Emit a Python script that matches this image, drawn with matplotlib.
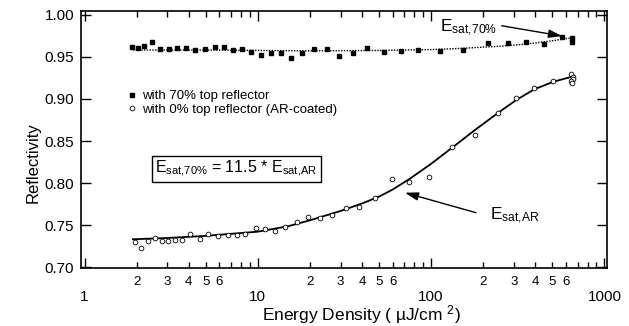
import math
import matplotlib
matplotlib.use("Agg")
import matplotlib.pyplot as plt
from matplotlib.ticker import FixedLocator, FuncFormatter

plt.rcParams['font.family'] = ['Liberation Sans', 'DejaVu Sans']
plt.rcParams['mathtext.fontset'] = 'custom'
plt.rcParams['mathtext.rm'] = 'Liberation Sans'
plt.rcParams['mathtext.it'] = 'Liberation Sans:italic'

# measured points, 70% top reflector
e_70 = [1.89, 2.03, 2.21, 2.45, 2.73, 3.06, 3.40, 3.84, 4.36, 4.94, 5.64, 6.41,
        7.22, 8.14, 9.14, 10.4, 11.9, 13.6, 15.6, 18.0, 21.0, 25.1, 29.4, 35.6,
        42.8, 53.7, 67.0, 84.4, 112.6, 153.4, 213.8, 276, 352, 451, 573, 646, 650]
r_70 = [0.9619, 0.9600, 0.9631, 0.9671, 0.9595, 0.9592, 0.9604, 0.9604, 0.9580,
        0.9595, 0.9612, 0.9619, 0.9584, 0.9588, 0.9556, 0.9521, 0.9544, 0.9544,
        0.9482, 0.9544, 0.9592, 0.9592, 0.9515, 0.9550, 0.9607, 0.9554, 0.9568,
        0.9576, 0.9568, 0.9586, 0.9663, 0.9659, 0.9678, 0.9648, 0.9734, 0.9719,
        0.9678]

# measured points, AR-coated
e_ar = [1.96, 2.11, 2.33, 2.55, 2.81, 3.04, 3.33, 3.64, 4.06, 4.64, 5.18, 5.92,
        6.71, 7.55, 8.44, 9.72, 11.0, 12.6, 14.4, 16.8, 19.6, 22.9, 26.7, 32.3,
        38.5, 47.5, 59.3, 74.6, 97.6, 131.5, 179.2, 244.2, 309, 394, 508,
        640, 655, 660, 645, 650]
r_ar = [0.7306, 0.7228, 0.7318, 0.7346, 0.7318, 0.7318, 0.7326, 0.7326, 0.7397,
        0.7335, 0.7397, 0.7374, 0.7386, 0.7389, 0.7397, 0.7465, 0.7457, 0.7437,
        0.7477, 0.7536, 0.7595, 0.7587, 0.7623, 0.7702, 0.7721, 0.7821, 0.8046,
        0.8018, 0.8070, 0.8433, 0.8572, 0.8833, 0.9014, 0.9126, 0.9209,
        0.9295, 0.9260, 0.9236, 0.9212, 0.9189]

# fit curves
fit70_e = [1.9, 5, 10, 20, 50, 100, 150, 250, 350, 500, 650]
fit70_r = [0.958, 0.958, 0.9575, 0.957, 0.9575, 0.9585, 0.960, 0.9625, 0.965, 0.969, 0.9725]
fitar_e = [1.9, 3, 5, 10, 15, 20, 30, 40, 50, 60, 75, 100, 131, 179, 244, 310, 394, 508, 648]
fitar_r = [0.7335, 0.735, 0.7375, 0.7425, 0.749, 0.756, 0.767, 0.776, 0.784, 0.7925,
           0.805, 0.823, 0.8415, 0.8631, 0.8836, 0.8987, 0.9114, 0.9204, 0.9263]


def minor_label(v, pos):
    m = round(v / 10 ** math.floor(math.log10(v) + 1e-9))
    return '%d' % m if m <= 6 else ''


fig = plt.figure(figsize=(6.29, 3.26), dpi=100)
ax = fig.add_axes([81.3 / 629, 1 - 268 / 326, (606.7 - 81.3) / 629, (268 - 11) / 326])

ax.plot(fit70_e, fit70_r, color='black', lw=1.0, ls=(0, (1, 1)))
ax.plot(fitar_e, fitar_r, color='black', lw=1.3)
ax.plot(e_70, r_70, 's', color='black', ms=3.4, label='with 70% top reflector')
ax.plot(e_ar, r_ar, 'o', mfc='white', mec='black', mew=0.6, ms=3.4,
        label='with 0% top reflector (AR-coated)')

ax.set_xscale('log')
ax.set_xlim(0.958, 1031)
ax.set_ylim(0.6994, 1.0043)

ax.xaxis.set_major_locator(FixedLocator([1, 10, 100, 1000]))
ax.xaxis.set_major_formatter(FuncFormatter(lambda v, p: '%d' % round(v)))
minors = [m * 10 ** d for d in range(3) for m in range(2, 10)]
ax.xaxis.set_minor_locator(FixedLocator(minors))
ax.xaxis.set_minor_formatter(FuncFormatter(minor_label))
ax.set_yticks([0.70, 0.75, 0.80, 0.85, 0.90, 0.95, 1.00])
ax.yaxis.set_major_formatter(FuncFormatter(lambda v, p: '%.2f' % v))

ax.tick_params(which='both', direction='in', top=True, right=True, width=1, color='black')
ax.tick_params(axis='x', which='major', length=7, pad=16, labelsize=11)
ax.tick_params(axis='x', which='minor', length=4, pad=6, labelsize=9.5)
ax.tick_params(axis='y', which='major', length=7, pad=5, labelsize=11)
for s in ax.spines.values():
    s.set_linewidth(1.2)

ax.set_ylabel('Reflectivity', fontsize=12)
ax.yaxis.set_label_coords(-0.078, 0.41)
ax.set_xlabel(r'Energy Density ( µJ/cm $^{2}$)', fontsize=12.5)
ax.xaxis.set_label_coords(0.533, -0.135)

ax.legend(loc='upper left', bbox_to_anchor=(0.087, 0.692), frameon=False,
          handlelength=0.7, handletextpad=0.4, labelspacing=0.1, borderpad=0,
          borderaxespad=0, fontsize=9.5, numpoints=1)

ax.text(0.295, 0.385, r'$\mathregular{E_{sat{,}70\%}}$ = 11.5 * $\mathregular{E_{sat{,}AR}}$',
        transform=ax.transAxes, ha='center', va='center', fontsize=11.5,
        bbox=dict(boxstyle='square,pad=0.2', fc='white', ec='black', lw=1))

ax.text(112.6, 0.9793, r'$\mathregular{E_{sat{,}70\%}}$', fontsize=12.5, ha='left', va='baseline')
ax.annotate('', xy=(569, 0.9746), xytext=(255.6, 0.9868),
            arrowprops=dict(arrowstyle='-|>,head_length=0.8,head_width=0.25', color='black',
                            lw=1, mutation_scale=10, shrinkA=0, shrinkB=0))
ax.text(218.8, 0.7563, r'$\mathregular{E_{sat{,}AR}}$', fontsize=12.5, ha='left', va='baseline')
ax.annotate('', xy=(70.7, 0.7887), xytext=(181.6, 0.7650),
            arrowprops=dict(arrowstyle='-|>,head_length=0.8,head_width=0.25', color='black',
                            lw=1, mutation_scale=10, shrinkA=0, shrinkB=0))

fig.savefig('out.png', dpi=100)
